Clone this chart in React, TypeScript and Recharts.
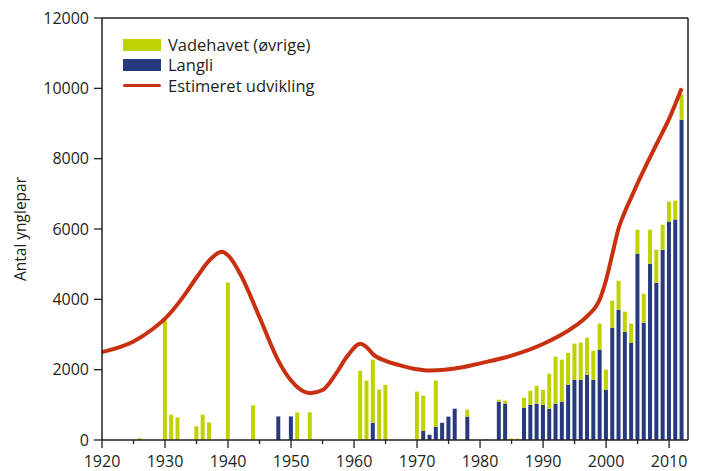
import { Bar, ComposedChart, Line, ReferenceLine, XAxis, YAxis } from "recharts";

const barYears = [
  1926, 1930, 1931, 1932, 1935, 1936, 1937, 1940, 1944, 1948, 1950, 1951, 1953,
  1961, 1962, 1963, 1964, 1965, 1970, 1971, 1972, 1973, 1974, 1975, 1976, 1978,
  1981, 1983, 1984, 1985, 1986, 1987, 1988, 1989, 1990, 1991, 1992, 1993, 1994,
  1995, 1996, 1997, 1998, 1999, 2000, 2001, 2002, 2003, 2004, 2005, 2006, 2007,
  2008, 2009, 2010, 2011, 2012,
];
const langli = [
  0, 0, 0, 0, 0, 0, 0, 0, 0, 670, 670, 0, 0,
  0, 0, 490, 0, 0, 0, 265, 150, 380, 490, 665, 890, 665,
  0, 1090, 1035, 0, 0, 920, 1000, 1035, 1000, 890, 1035, 1090, 1570,
  1715, 1715, 1855, 1715, 2570, 1430, 3195, 3705, 3080, 2770, 5300, 3335, 5015,
  4475, 5410, 6210, 6270, 9110,
];
const vadehavet = [
  50, 3400, 720, 640, 390, 720, 500, 4480, 985, 0, 0, 785, 785,
  1970, 1690, 1795, 1430, 1570, 1375, 995, 0, 1310, 0, 0, 0, 200,
  30, 56, 85, 40, 40, 280, 400, 510, 430, 995, 1335, 1195, 910,
  1025, 1055, 1055, 825, 740, 570, 765, 825, 570, 540, 680, 825, 965,
  935, 710, 570, 540, 710,
];

const lineYears = [
  1920, 1925, 1928, 1930, 1933, 1935, 1937, 1939, 1940, 1942, 1945, 1948, 1950,
  1953, 1955, 1957, 1959, 1961, 1962, 1963, 1965, 1967, 1970, 1972, 1977, 1980,
  1985, 1990, 1995, 1997, 1999, 2000, 2001, 2002, 2003, 2004, 2005, 2008, 2010, 2012,
];
const estimeret = [
  2500, 2800, 3150, 3450, 4100, 4620, 5100, 5350, 5250, 4700, 3490, 2250, 1690,
  1330, 1420, 1850, 2400, 2740, 2640, 2440, 2250, 2140, 2010, 1975, 2060, 2180,
  2400, 2730, 3230, 3520, 4000, 4550, 5290, 6030, 6500, 6900, 7300, 8410, 9130, 10000,
];

const xTicks = [
  1920, 1925, 1930, 1935, 1940, 1945, 1950, 1955, 1960, 1965, 1970, 1975, 1980,
  1985, 1990, 1995, 2000, 2005, 2010,
];
const yTicks = [0, 2000, 4000, 6000, 8000, 10000, 12000];

const GREEN = "#bfd100";
const BLUE = "#283a7e";
const RED = "#c9300f";
const INK = "#231f20";
const FONT = "'Open Sans', Lato, sans-serif";

const rows = new Map<number, any>();
barYears.forEach((year, i) =>
  rows.set(year, { year, langli: langli[i], vadehavet: vadehavet[i] })
);
lineYears.forEach((year, i) => {
  const row = rows.get(year) ?? { year };
  row.estimeret = estimeret[i];
  rows.set(year, row);
});
const data = [...rows.values()].sort((a, b) => a.year - b.year);

function YearTick({ x, y, payload }: any) {
  const major = payload.value % 10 === 0;
  return (
    <g>
      <line x1={x} x2={x} y1={y} y2={y + (major ? 8 : 4)} stroke={INK} strokeWidth={1.3} />
      {major && (
        <text x={x} y={y + 21.5} dy="0.35em" textAnchor="middle" fontSize={16} fill={INK} fontFamily={FONT}>
          {payload.value}
        </text>
      )}
    </g>
  );
}

export default function App() {
  return (
    <div style={{ position: "absolute", left: 0, top: 0, width: 702, height: 471, background: "#fff", fontFamily: FONT }}>
      <ComposedChart
        width={702}
        height={471}
        data={data}
        margin={{ top: 18, right: 14, left: 0, bottom: 0 }}
      >
        <XAxis
          dataKey="year"
          type="number"
          domain={[1920, 2013]}
          ticks={xTicks}
          interval={0}
          height={31}
          tickSize={0}
          tickMargin={0}
          tickLine={false}
          axisLine={{ stroke: INK, strokeWidth: 1.5 }}
          tick={<YearTick />}
        />
        <YAxis
          domain={[0, 12000]}
          ticks={yTicks}
          interval={0}
          width={102}
          tickSize={8}
          tickMargin={5}
          tickLine={{ stroke: INK, strokeWidth: 1.3 }}
          axisLine={{ stroke: INK, strokeWidth: 1.5 }}
          tick={{ fill: INK, fontSize: 16, fontFamily: FONT }}
        />
        <ReferenceLine y={12000} stroke={INK} strokeWidth={1.3} ifOverflow="visible" />
        <ReferenceLine x={2013} stroke={INK} strokeWidth={1.5} ifOverflow="visible" />
        <Bar dataKey="langli" stackId="a" fill={BLUE} barSize={4} isAnimationActive={false} />
        <Bar dataKey="vadehavet" stackId="a" fill={GREEN} barSize={4} isAnimationActive={false} />
        <Line
          dataKey="estimeret"
          type="monotone"
          stroke={RED}
          strokeWidth={4}
          dot={false}
          connectNulls
          isAnimationActive={false}
        />
      </ComposedChart>

      <div style={{ position: "absolute", left: 123, top: 35, fontSize: 16.5, color: INK, lineHeight: "20.3px" }}>
        <div style={{ display: "flex", alignItems: "center" }}>
          <span style={{ width: 38, height: 12, background: GREEN, marginRight: 7 }} />
          Vadehavet (øvrige)
        </div>
        <div style={{ display: "flex", alignItems: "center" }}>
          <span style={{ width: 38, height: 12, background: BLUE, marginRight: 7 }} />
          Langli
        </div>
        <div style={{ display: "flex", alignItems: "center" }}>
          <span style={{ width: 38, height: 3.5, borderRadius: 2, background: RED, marginRight: 7 }} />
          Estimeret udvikling
        </div>
      </div>

      <div
        style={{
          position: "absolute",
          left: 20,
          top: 229,
          transform: "translate(-50%, -50%) rotate(-90deg)",
          fontSize: 15.5,
          color: INK,
          whiteSpace: "nowrap",
        }}
      >
        Antal ynglepar
      </div>
    </div>
  );
}
